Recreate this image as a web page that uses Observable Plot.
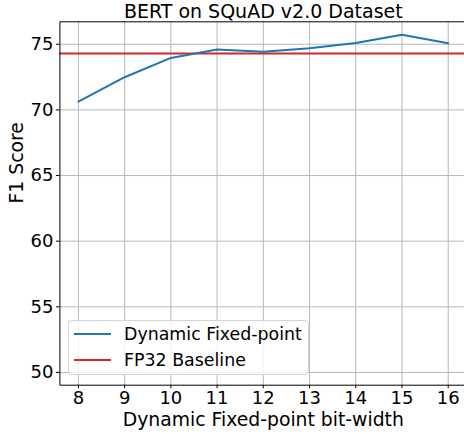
<!DOCTYPE html>
<html>
<head>
<meta charset="utf-8">
<script src="https://cdn.jsdelivr.net/npm/d3@7"></script>
<script src="https://cdn.jsdelivr.net/npm/@observablehq/plot@0.6"></script>
<style>
  html, body { margin: 0; padding: 0; background: white; overflow: hidden; }
  #wrap { position: relative; width: 464px; height: 434px; overflow: hidden; font-family: "DejaVu Sans", sans-serif; }
  #legend { position: absolute; left: 68px; top: 320px; width: 241px; height: 55px; box-sizing: border-box;
    border: 1px solid #d4d4d4; border-radius: 4px; background: rgba(255,255,255,0.8);
    font-size: 17.4px; color: #000; }
  .row { position: absolute; left: 0; height: 22px; display: flex; align-items: center; white-space: nowrap; }
  .sw { width: 37px; height: 2px; margin-left: 5px; margin-right: 13px; }
</style>
</head>
<body>
<div id="wrap"></div>
<script>
const bitWidths = [8, 9, 10, 11, 12, 13, 14, 15, 16];
const dynamicF1 = [70.63, 72.49, 73.96, 74.6, 74.42, 74.7, 75.1, 75.72, 75.08];
const baselineF1 = 74.29;
const yTicks = [50, 55, 60, 65, 70, 75];
const xDomain = [7.6, 16.4];
const yDomain = [49.03, 76.71];
const seriesNames = ["Dynamic Fixed-point", "FP32 Baseline"];
const seriesColors = ["#1f77b4", "#d62728"];
const titleText = "BERT on SQuAD v2.0 Dataset";
const xLabel = "Dynamic Fixed-point bit-width";
const yLabel = "F1 Score";

const data = bitWidths.map((b, i) => ({ b, f1: dynamicF1[i] }));
// open axes box (left, top, bottom spines) built from the domain ends
const spines = [[xDomain[1], yDomain[1]], [xDomain[0], yDomain[1]], [xDomain[0], yDomain[0]], [xDomain[1], yDomain[0]]];
const font = "DejaVu Sans, sans-serif";

const chart = Plot.plot({
  width: 464,
  height: 434,
  marginLeft: 59.4,
  marginTop: 21.3,
  marginBottom: 49.3,
  marginRight: 0,
  style: { fontFamily: font, background: "white" },
  x: { domain: xDomain, range: [59.4, 466.2] },
  y: { domain: yDomain },
  marks: [
    Plot.gridX(bitWidths, { stroke: "#b8b8b8", strokeOpacity: 1, strokeWidth: 1 }),
    Plot.gridY(yTicks, { stroke: "#b8b8b8", strokeOpacity: 1, strokeWidth: 1 }),
    Plot.ruleY([baselineF1], { stroke: seriesColors[1], strokeWidth: 2 }),
    Plot.line(data, { x: "b", y: "f1", stroke: seriesColors[0], strokeWidth: 2 }),
    Plot.line(spines, { stroke: "black", strokeWidth: 1, strokeLinejoin: "miter" }),
    Plot.axisX(bitWidths, { tickSize: 3.5, tickPadding: 3, fontSize: 18, label: null, tickFormat: d => String(d) }),
    Plot.axisY(yTicks, { tickSize: 3.5, tickPadding: 3, fontSize: 18, label: null }),
    Plot.text([titleText], { x: () => (xDomain[0] + xDomain[1]) / 2, frameAnchor: "top", lineAnchor: "bottom", dy: -4.3, fontSize: 19, fill: "black" }),
    Plot.text([xLabel], { x: () => (xDomain[0] + xDomain[1]) / 2, frameAnchor: "bottom", lineAnchor: "bottom", dy: 40.6, fontSize: 18.8, fill: "black" }),
    Plot.text([yLabel], { frameAnchor: "left", dx: -42.7, rotate: -90, fontSize: 18.8, fill: "black" })
  ]
});

const wrap = document.getElementById("wrap");
wrap.appendChild(chart);

const legend = document.createElement("div");
legend.id = "legend";
seriesNames.forEach((name, i) => {
  const row = document.createElement("div");
  row.className = "row";
  row.style.top = (2 + i * 26) + "px";
  const sw = document.createElement("div");
  sw.className = "sw";
  sw.style.background = seriesColors[i];
  const t = document.createElement("span");
  t.textContent = name;
  row.appendChild(sw);
  row.appendChild(t);
  legend.appendChild(row);
});
wrap.appendChild(legend);
</script>
</body>
</html>
